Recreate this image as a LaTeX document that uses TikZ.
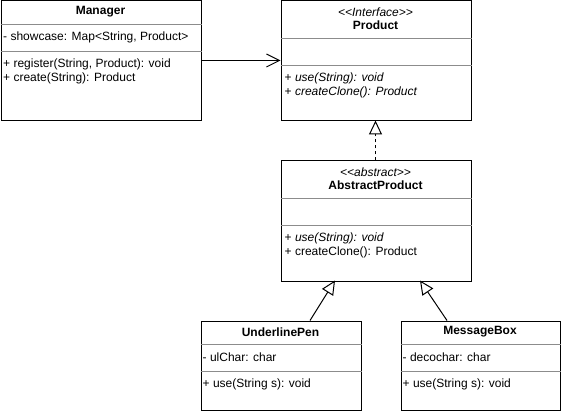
\documentclass[tikz,border=0pt]{standalone}
\usepackage{fontspec}
\setmainfont{Liberation Sans}
\usetikzlibrary{arrows.meta}
\begin{document}
\begin{tikzpicture}[x=1pt,y=-1pt,
  box/.style={draw=black,line width=1pt,inner sep=0pt,anchor=north west,fill=white},
  sep/.style={draw=black!45,line width=1pt},
  txt/.style={inner sep=0pt,anchor=west,font=\fontsize{12}{14}\selectfont},
  ttl/.style={inner sep=0pt,anchor=center,font=\fontsize{12}{14}\selectfont\bfseries},
  ster/.style={inner sep=0pt,anchor=center,font=\fontsize{12}{14}\selectfont\itshape},
  edge/.style={draw=black,line width=1pt},
  vee/.style={-{Straight Barb[length=13pt,width=13pt,line width=1pt]}},
  tri/.style={-{Triangle[open,length=14pt,width=13pt,line width=1pt,fill=white]}}]
\useasboundingbox (0,0) rectangle (561,411);

% Manager
\node[box,minimum width=200pt,minimum height=120pt] (mgr) at (0.5,0.5) {};
\draw[sep] ([yshift=-24pt]mgr.north west) -- ([yshift=-24pt]mgr.north east);
\draw[sep] ([yshift=-51pt]mgr.north west) -- ([yshift=-51pt]mgr.north east);
\node[ttl] (mgrT) at (100.5,12) {Manager};
\node[txt] (mgrA) at (3,37.5) {- showcase: Map<String, Product>};
\node[txt] (mgrM1) at (3,64) {+ register(String, Product): void};
\node[txt] (mgrM2) at (3,78) {+ create(String): Product};

% Product
\node[box,minimum width=190pt,minimum height=120pt] (prod) at (280.5,0.5) {};
\draw[sep] ([yshift=-38pt]prod.north west) -- ([yshift=-38pt]prod.north east);
\draw[sep] ([yshift=-65pt]prod.north west) -- ([yshift=-65pt]prod.north east);
\node[ster] (prodS) at (375.5,12.5) {<\kern0pt<Interface>\kern0pt>};
\node[ttl] (prodT) at (375.5,25) {Product};
\node[txt] (prodM1) at (284.5,78) {+ \textit{use(String): void}};
\node[txt] (prodM2) at (284.5,92) {+ \textit{createClone(): Product}};

% AbstractProduct
\node[box,minimum width=190pt,minimum height=120pt] (abs) at (280.5,160.5) {};
\draw[sep] ([yshift=-38pt]abs.north west) -- ([yshift=-38pt]abs.north east);
\draw[sep] ([yshift=-65pt]abs.north west) -- ([yshift=-65pt]abs.north east);
\node[ster] (absS) at (375.5,172) {<\kern0pt<abstract>\kern0pt>};
\node[ttl] (absT) at (375.5,185) {AbstractProduct};
\node[txt] (absM1) at (284.5,238) {+ \textit{use(String): void}};
\node[txt] (absM2) at (284.5,252) {+ createClone(): Product};

% UnderlinePen
\node[box,minimum width=160pt,minimum height=89pt] (ul) at (200.5,320.5) {};
\draw[sep] ([yshift=-24pt]ul.north west) -- ([yshift=-24pt]ul.north east);
\draw[sep] ([yshift=-51pt]ul.north west) -- ([yshift=-51pt]ul.north east);
\node[ttl] (ulT) at (280.5,332) {UnderlinePen};
\node[txt] (ulA) at (202.5,357.5) {- ulChar: char};
\node[txt] (ulM) at (202.5,384) {+ use(String s): void};

% MessageBox
\node[box,minimum width=159pt,minimum height=89pt] (mb) at (400.5,320.5) {};
\draw[sep] ([yshift=-24pt]mb.north west) -- ([yshift=-24pt]mb.north east);
\draw[sep] ([yshift=-51pt]mb.north west) -- ([yshift=-51pt]mb.north east);
\node[ttl] (mbT) at (480,332) {MessageBox};
\node[txt] (mbA) at (402.5,357.5) {- decochar: char};
\node[txt] (mbM) at (402.5,384) {+ use(String s): void};

% connectors
\coordinate (mgrOut) at (mgr.east |- 0,60.5);
\coordinate (prodIn) at (prod.west |- 0,60.5);
\draw[edge,vee] (mgrOut) -- (prodIn);

\coordinate (absTop) at (375.5,160.5);
\coordinate (prodBot) at (375.5,120.5);
\draw[edge,tri,dash pattern=on 3pt off 3pt] (absTop) -- (prodBot);

\coordinate (ulTop) at (310,320.5);
\coordinate (absB1) at (335,280.5);
\draw[edge,tri] (ulTop) -- (absB1);

\coordinate (mbTop) at (447,320.5);
\coordinate (absB2) at (420,280.5);
\draw[edge,tri] (mbTop) -- (absB2);
\end{tikzpicture}
\end{document}
